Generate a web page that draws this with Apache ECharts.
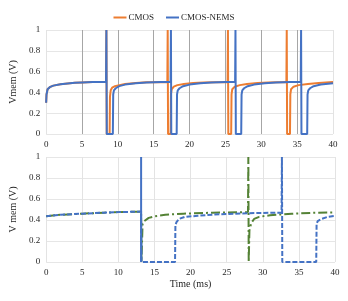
<!DOCTYPE html>
<html>
<head>
<meta charset="utf-8">
<script src="https://cdn.jsdelivr.net/npm/echarts@6/dist/echarts.min.js"></script>
<style>html,body{margin:0;padding:0;background:#fff}#c{width:348px;height:301px}</style>
</head>
<body>
<div id="c"></div>
<script>
// ---- Top panel (CMOS vs CMOS-NEMS) ----
const cmos = [
  [0,0.30],[0.05,0.38],[0.2,0.43],[0.5,0.45],[1,0.465],[2,0.478],[3,0.486],[4,0.492],[5,0.496],[6.5,0.499],[8.35,0.50],
  [8.4,1.0],[8.45,0],[8.85,0],[8.9,0.36],[9.0,0.42],[9.2,0.445],[9.6,0.46],[10.2,0.47],[11,0.48],[12.5,0.49],[14,0.497],[16.9,0.5],
  [16.95,1.0],[17.0,0],[17.35,0],[17.4,0.38],[17.5,0.43],[17.8,0.455],[18.3,0.47],[19.2,0.48],[20.5,0.49],[22,0.496],[25.3,0.5],
  [25.35,1.0],[25.4,0],[25.8,0],[25.85,0.38],[25.95,0.43],[26.3,0.455],[27,0.47],[28,0.48],[29.5,0.49],[31,0.496],[33.5,0.5],
  [33.55,1.0],[33.6,0],[34.0,0],[34.05,0.38],[34.15,0.43],[34.5,0.455],[35.2,0.47],[36.5,0.48],[38,0.49],[40,0.499]
];
const cmosNems = [
  [0,0.30],[0.05,0.38],[0.2,0.43],[0.5,0.45],[1,0.465],[2,0.478],[3,0.486],[4,0.492],[5,0.496],[6.5,0.499],[8.35,0.50],
  [8.4,1.0],[8.45,0],[9.3,0],[9.35,0.38],[9.45,0.42],[9.7,0.44],[10.2,0.46],[11,0.475],[12.5,0.487],[14,0.495],[16,0.5],[17.35,0.5],
  [17.4,1.0],[17.45,0],[18.2,0],[18.25,0.38],[18.35,0.42],[18.6,0.44],[19.1,0.46],[20,0.475],[21.5,0.487],[23,0.495],[25,0.5],[26.35,0.5],
  [26.4,1.0],[26.45,0],[27.2,0],[27.25,0.38],[27.35,0.42],[27.6,0.44],[28.1,0.46],[29,0.475],[30.5,0.487],[32,0.495],[34,0.5],[35.5,0.5],
  [35.55,1.0],[35.6,0],[36.4,0],[36.45,0.38],[36.55,0.42],[36.8,0.44],[37.3,0.46],[38.3,0.475],[40,0.487]
];
// ---- Bottom panel ----
const greenDashDot = [
  [0,0.435],[2,0.45],[5,0.46],[8,0.47],[10,0.475],[13.15,0.48],
  [13.2,0],[13.3,0],[13.35,0.36],[13.6,0.39],[14.2,0.42],[15,0.435],[16.5,0.45],[19,0.46],[23,0.47],[27.95,0.475],
  [28.0,1.0],[28.05,0],[28.1,0],[28.15,0.3],[28.4,0.37],[28.8,0.41],[29.5,0.43],[31,0.445],[34,0.46],[37,0.468],[40,0.472]
];
const blueDashed = [
  [0,0.435],[2,0.45],[5,0.46],[8,0.47],[10,0.475],[13.15,0.48],
  [13.2,0],[17.85,0],[17.9,0.35],[18.05,0.38],[18.4,0.41],[19.2,0.43],[21,0.44],[24,0.455],[28,0.465],[32.6,0.47],
  [32.65,1.0],[32.7,0],[37.4,0],[37.45,0.36],[37.6,0.39],[38.1,0.41],[39,0.43],[40,0.44]
];
const blueSpike = [[13.15,0],[13.15,1.0]];

const serif = '"Liberation Serif","Times New Roman",serif';
const txt = '#262626';
const topVColors = ['#e3e3e3','#a6a6a6','#a6a6a6','#a6a6a6','#a6a6a6','#a6a6a6','#a6a6a6','#a6a6a6','#e3e3e3'];

const xCommon = {
  type:'value', min:0, max:40, interval:5,
  axisLine:{show:false}, axisTick:{show:false},
  axisLabel:{fontFamily:serif, fontSize:9, color:txt, margin:6}
};
const yCommon = {
  type:'value', min:0, max:1, interval:0.2,
  axisLine:{show:false}, axisTick:{show:false},
  axisLabel:{fontFamily:serif, fontSize:9, color:txt, margin:6},
  splitLine:{lineStyle:{color:'#e6e6e6', width:1}},
  nameLocation:'middle', nameGap:26,
  nameTextStyle:{fontFamily:serif, fontSize:10, color:txt}
};

const chart = echarts.init(document.getElementById('c'), null, {renderer:'canvas'});
chart.setOption({
  animation:false,
  legend:{
    data:['CMOS','CMOS-NEMS'], top:8, left:'center',
    itemWidth:13, itemHeight:2, itemGap:12,
    icon:'rect',
    textStyle:{fontFamily:serif, fontSize:9, color:txt, padding:[0,0,0,-3]}
  },
  grid:[
    {left:41, right:15, top:30, height:104},
    {left:42, right:13, top:157, height:105}
  ],
  xAxis:[
    Object.assign({}, xCommon, {gridIndex:0, splitLine:{show:true, lineStyle:{color:topVColors, width:1}}}),
    Object.assign({}, xCommon, {gridIndex:1, splitLine:{show:true, lineStyle:{color:'#e3e3e3', width:1}},
      name:'Time (ms)', nameLocation:'middle', nameGap:17,
      nameTextStyle:{fontFamily:serif, fontSize:10, color:txt}})
  ],
  yAxis:[
    Object.assign({}, yCommon, {gridIndex:0, name:'Vmem (V)'}),
    Object.assign({}, yCommon, {gridIndex:1, name:'V mem (V)'})
  ],
  series:[
    {name:'CMOS', type:'line', xAxisIndex:0, yAxisIndex:0, data:cmos, showSymbol:false, symbol:'none',
     color:'#ED7D31', lineStyle:{color:'#ED7D31', width:2}},
    {name:'CMOS-NEMS', type:'line', xAxisIndex:0, yAxisIndex:0, data:cmosNems, showSymbol:false, symbol:'none',
     color:'#4472C4', lineStyle:{color:'#4472C4', width:2}},
    {name:'green', type:'line', xAxisIndex:1, yAxisIndex:1, data:greenDashDot, showSymbol:false, symbol:'none',
     lineStyle:{color:'#548235', width:2, type:[9,3,2,3]}},
    {name:'blueD', type:'line', xAxisIndex:1, yAxisIndex:1, data:blueDashed, showSymbol:false, symbol:'none',
     lineStyle:{color:'#4472C4', width:2, type:[5,2]}},
    {name:'blueS', type:'line', xAxisIndex:1, yAxisIndex:1, data:blueSpike, showSymbol:false, symbol:'none',
     lineStyle:{color:'#4472C4', width:2}}
  ]
});
</script>
</body>
</html>
